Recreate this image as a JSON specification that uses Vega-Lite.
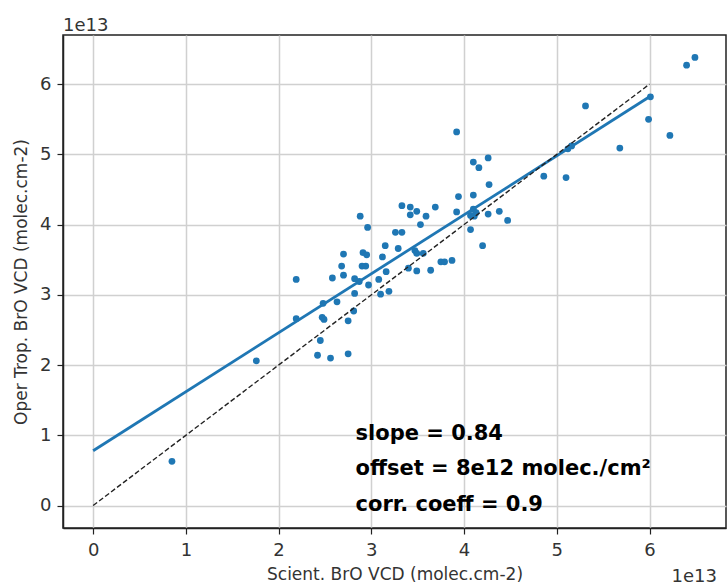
{
  "$schema": "https://vega.github.io/schema/vega-lite/v6.json",
  "width": 663,
  "height": 493,
  "autosize": {"type": "none"},
  "padding": {"left": 63, "top": 35, "right": 1, "bottom": 58},
  "background": "white",
  "title": {"text": "1e13", "anchor": "start", "frame": "group", "font": "DejaVu Sans", "fontSize": 18, "fontWeight": "normal", "color": "#333", "offset": 0},
  "config": {
    "view": {"stroke": "#222", "strokeWidth": 1.5},
    "axis": {
      "domainColor": "#222", "domainWidth": 1.5,
      "tickColor": "#222", "tickSize": 6, "tickWidth": 1.2,
      "gridColor": "#d0d0d0", "gridWidth": 1.5,
      "labelFont": "DejaVu Sans", "labelFontSize": 18, "labelColor": "#333",
      "titleFont": "DejaVu Sans", "titleFontSize": 17, "titleFontWeight": "normal", "titleColor": "#333"
    }
  },
  "datasets": {
    "points": [
      {"x": 0.85, "y": 0.63}, {"x": 1.76, "y": 2.06}, {"x": 2.19, "y": 3.22}, {"x": 2.19, "y": 2.66},
      {"x": 2.45, "y": 2.35}, {"x": 2.42, "y": 2.14}, {"x": 2.56, "y": 2.10}, {"x": 2.75, "y": 2.16},
      {"x": 2.47, "y": 2.68}, {"x": 2.49, "y": 2.65}, {"x": 2.48, "y": 2.88}, {"x": 2.63, "y": 2.90},
      {"x": 2.75, "y": 2.63}, {"x": 2.81, "y": 2.77}, {"x": 2.82, "y": 3.02}, {"x": 2.58, "y": 3.24},
      {"x": 2.70, "y": 3.28}, {"x": 2.68, "y": 3.41}, {"x": 2.70, "y": 3.58}, {"x": 2.82, "y": 3.23},
      {"x": 2.87, "y": 3.19}, {"x": 2.90, "y": 3.41}, {"x": 2.94, "y": 3.41}, {"x": 2.91, "y": 3.60},
      {"x": 2.95, "y": 3.57}, {"x": 2.97, "y": 3.14}, {"x": 2.88, "y": 4.12}, {"x": 2.96, "y": 3.96},
      {"x": 3.08, "y": 3.22}, {"x": 3.10, "y": 3.01}, {"x": 3.19, "y": 3.05}, {"x": 3.12, "y": 3.54},
      {"x": 3.16, "y": 3.33}, {"x": 3.15, "y": 3.70}, {"x": 3.29, "y": 3.66}, {"x": 3.26, "y": 3.89},
      {"x": 3.33, "y": 3.89}, {"x": 3.33, "y": 4.27}, {"x": 3.42, "y": 4.25}, {"x": 3.49, "y": 4.19},
      {"x": 3.42, "y": 4.14}, {"x": 3.59, "y": 4.12}, {"x": 3.53, "y": 4.00}, {"x": 3.69, "y": 4.25},
      {"x": 3.40, "y": 3.38}, {"x": 3.49, "y": 3.34}, {"x": 3.47, "y": 3.63}, {"x": 3.49, "y": 3.59},
      {"x": 3.56, "y": 3.59}, {"x": 3.64, "y": 3.35}, {"x": 3.75, "y": 3.47}, {"x": 3.79, "y": 3.47},
      {"x": 3.87, "y": 3.49}, {"x": 3.92, "y": 5.32}, {"x": 3.92, "y": 4.18}, {"x": 3.94, "y": 4.40},
      {"x": 4.10, "y": 4.42}, {"x": 4.10, "y": 4.89}, {"x": 4.16, "y": 4.81}, {"x": 4.26, "y": 4.95},
      {"x": 4.27, "y": 4.57}, {"x": 4.10, "y": 4.22}, {"x": 4.13, "y": 4.17}, {"x": 4.07, "y": 4.13},
      {"x": 4.11, "y": 4.12}, {"x": 4.26, "y": 4.15}, {"x": 4.38, "y": 4.19}, {"x": 4.47, "y": 4.06},
      {"x": 4.07, "y": 3.93}, {"x": 4.20, "y": 3.70}, {"x": 4.86, "y": 4.69}, {"x": 5.10, "y": 4.67},
      {"x": 5.12, "y": 5.08}, {"x": 5.16, "y": 5.12}, {"x": 5.31, "y": 5.69}, {"x": 5.68, "y": 5.09},
      {"x": 5.99, "y": 5.50}, {"x": 6.01, "y": 5.82}, {"x": 6.22, "y": 5.27}, {"x": 6.40, "y": 6.27},
      {"x": 6.49, "y": 6.38}
    ],
    "fit": [{"x": 0, "y": 0.78}, {"x": 6, "y": 5.82}],
    "one": [{"x": 0, "y": 0}, {"x": 6, "y": 6}]
  },
  "layer": [
    {
      "data": {"name": "points"},
      "mark": {"type": "circle", "size": 46, "color": "#1f77b4", "opacity": 1},
      "encoding": {
        "x": {"field": "x", "type": "quantitative",
              "scale": {"domain": [-0.325, 6.825], "nice": false, "zero": false},
              "axis": {"values": [0, 1, 2, 3, 4, 5, 6], "format": "d", "title": "Scient. BrO VCD (molec.cm-2)", "labelPadding": 7, "titlePadding": 7}},
        "y": {"field": "y", "type": "quantitative",
              "scale": {"domain": [-0.32, 6.70], "nice": false, "zero": false},
              "axis": {"values": [0, 1, 2, 3, 4, 5, 6], "format": "d", "title": "Oper Trop. BrO VCD (molec.cm-2)", "labelPadding": 6, "titlePadding": 9}}
      }
    },
    {
      "data": {"name": "fit"},
      "mark": {"type": "line", "color": "#1f77b4", "strokeWidth": 2.8},
      "encoding": {
        "x": {"field": "x", "type": "quantitative"},
        "y": {"field": "y", "type": "quantitative"}
      }
    },
    {
      "data": {"name": "one"},
      "mark": {"type": "line", "color": "#222", "strokeWidth": 1.4, "strokeDash": [5, 2.5]},
      "encoding": {
        "x": {"field": "x", "type": "quantitative"},
        "y": {"field": "y", "type": "quantitative"}
      }
    },
    {
      "data": {"values": [{"label": "stats"}]},
      "mark": {"type": "text", "align": "left", "baseline": "alphabetic", "font": "DejaVu Sans", "fontWeight": "bold", "fontSize": 21, "lineHeight": 35.5, "color": "black",
               "text": ["slope = 0.84", "offset = 8e12 molec./cm²", "corr. coeff = 0.9"]},
      "encoding": {
        "x": {"datum": 2.83, "type": "quantitative"},
        "y": {"datum": 0.94, "type": "quantitative"}
      }
    },
    {
      "data": {"values": [{"label": "offset"}]},
      "mark": {"type": "text", "align": "right", "baseline": "middle", "font": "DejaVu Sans", "fontSize": 18, "color": "#333", "text": "1e13", "dx": -9, "dy": 49},
      "encoding": {
        "x": {"datum": 6.825, "type": "quantitative"},
        "y": {"datum": -0.32, "type": "quantitative"}
      }
    }
  ]
}
